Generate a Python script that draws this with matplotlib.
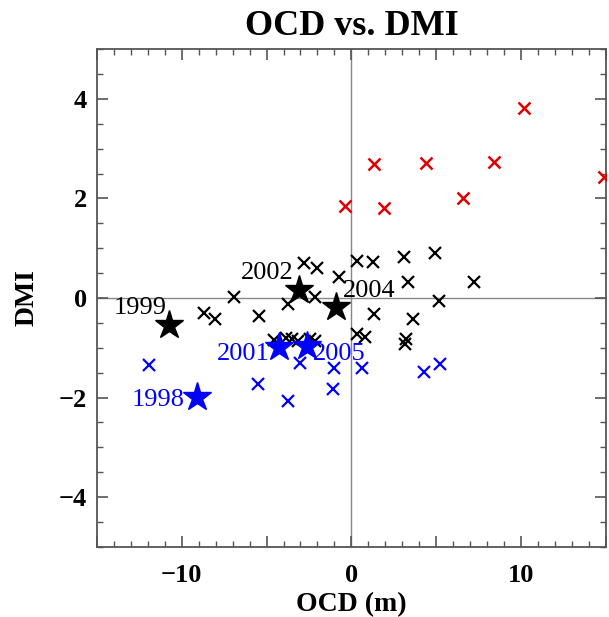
import numpy as np
import matplotlib
matplotlib.use("Agg")
import matplotlib.pyplot as plt
from matplotlib.ticker import MultipleLocator, FuncFormatter

# OCD (m) / DMI values
red_ocd = [-0.4, 1.35, 1.9, 4.4, 6.6, 8.4, 10.15, 14.9]
red_dmi = [1.85, 2.7, 1.8, 2.72, 2.0, 2.74, 3.82, 2.43]

black_ocd = [-8.7, -8.05, -6.9, -5.45, -3.75, -2.8, -2.0, -2.15, -0.75,
             0.35, 1.25, 3.1, 4.9, 3.35, 7.25, 5.15, 1.35, 3.65, 0.35,
             0.8, 3.2, 3.15, -4.55, -3.85, -3.5, -3.15, -2.45, -2.15]
black_dmi = [-0.3, -0.43, 0.02, -0.36, -0.12, 0.7, 0.6, 0.02, 0.42,
             0.75, 0.72, 0.82, 0.9, 0.32, 0.32, -0.05, -0.33, -0.42, -0.72,
             -0.79, -0.83, -0.93, -0.85, -0.8, -0.82, -0.87, -0.82, -0.87]

blue_ocd = [-11.9, -5.5, -3.75, -3.05, -1.0, -1.1, 0.6, 4.25, 5.25]
blue_dmi = [-1.35, -1.73, -2.07, -1.31, -1.41, -1.82, -1.41, -1.48, -1.33]

# highlighted years
star_years = ["1999", "2002", "2004", "2001", "2005", "1998"]
star_ocd = [-10.75, -3.1, -0.9, -4.25, -2.6, -9.1]
star_dmi = [-0.54, 0.16, -0.19, -0.98, -0.96, -1.99]
star_colors = ["black", "black", "black", "blue", "blue", "blue"]

# label placement (offset in points, alignment)
label_offsets = [(-2, 4), (-4, 4), (5, 4), (-7, -5), (4, -6), (-9, -2)]
label_ha = ["right", "right", "left", "right", "left", "right"]
label_va = ["bottom", "bottom", "bottom", "center", "center", "center"]

serif = "Liberation Serif"

fig = plt.figure(figsize=(6.09, 6.17), dpi=100)
ax = fig.add_axes([0.159, 0.1135, 0.836, 0.807])

ax.axhline(0, color="#888888", lw=1.0, zorder=1)
ax.axvline(0, color="#888888", lw=1.0, zorder=1)

ax.plot(red_ocd, red_dmi, "x", color="#e00000", ms=8, mew=1.8, zorder=3)
ax.plot(black_ocd, black_dmi, "x", color="black", ms=8, mew=1.6, zorder=3)
ax.plot(blue_ocd, blue_dmi, "x", color="blue", ms=8, mew=1.6, zorder=3)

for yr, xv, yv, c, off, ha, va in zip(star_years, star_ocd, star_dmi, star_colors,
                                      label_offsets, label_ha, label_va):
    ax.plot(xv, yv, "*", color=c, ms=21, mec=c, zorder=4)
    ax.annotate(yr, (xv, yv), xytext=off, textcoords="offset points",
                ha=ha, va=va, color=c, fontsize=19, family=serif, zorder=5)

ax.set_xlim(-15, 15)
ax.set_ylim(-5, 5)
ax.xaxis.set_major_locator(MultipleLocator(5))
ax.xaxis.set_minor_locator(MultipleLocator(1))
ax.xaxis.set_major_formatter(FuncFormatter(
    lambda v, p: ("%d" % v).replace("-", "\u2212") if v % 10 == 0 else ""))
ax.yaxis.set_major_locator(MultipleLocator(2))
ax.yaxis.set_minor_locator(MultipleLocator(0.5))

ax.tick_params(which="both", direction="in", top=True, right=True, color="#555555")
ax.tick_params(which="major", length=8, width=1.2)
ax.tick_params(which="minor", length=4, width=1.0)
ax.tick_params(axis="x", which="major", pad=12)
ax.tick_params(axis="y", which="major", pad=7)
for lab in ax.get_xticklabels() + ax.get_yticklabels():
    lab.set_fontfamily(serif)
    lab.set_fontweight("bold")
    lab.set_fontsize(19)
for s in ax.spines.values():
    s.set_color("#555555")
    s.set_linewidth(1.3)

ax.set_xlabel("OCD (m)", fontsize=20, fontweight="bold", family=serif, labelpad=4)
ax.set_ylabel("DMI", fontsize=20, fontweight="bold", family=serif, labelpad=14)
ax.set_title("OCD vs. DMI", fontsize=26, fontweight="bold", family=serif, pad=10)

fig.savefig("out.png", dpi=100)
plt.close(fig)
